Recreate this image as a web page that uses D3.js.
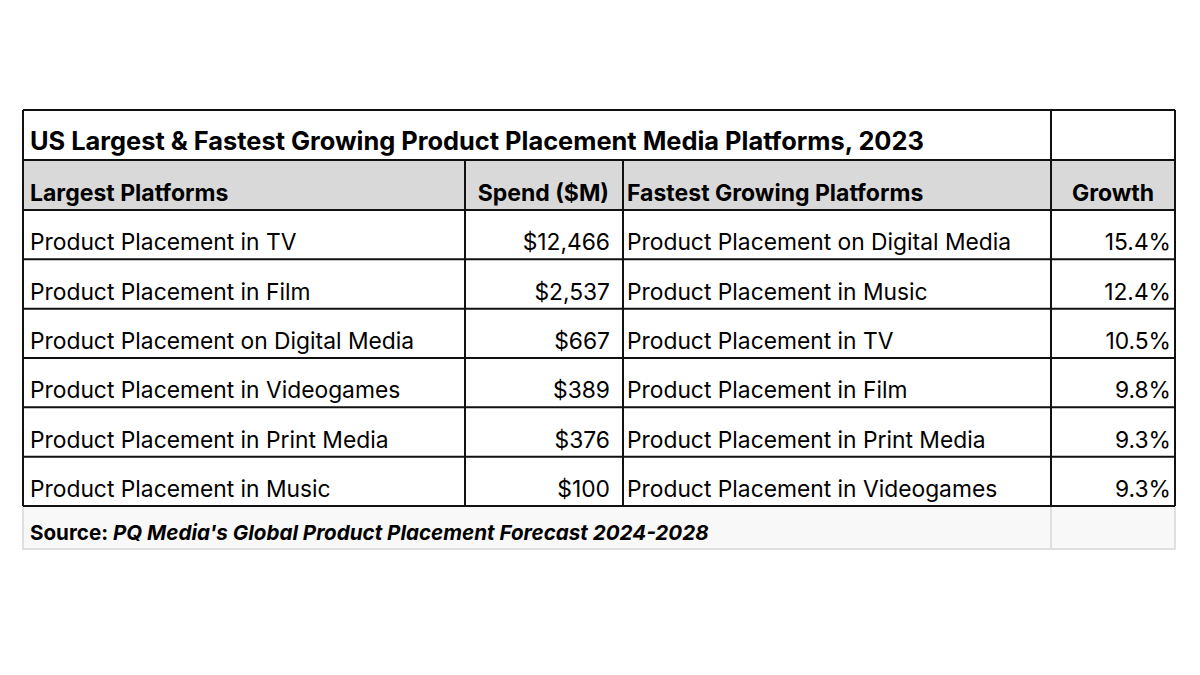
<!DOCTYPE html>
<html>
<head>
<meta charset="utf-8">
<script src="https://cdn.jsdelivr.net/npm/d3@7"></script>
<style>
  body { margin: 0; background: #fff; }
  text { font-family: Inter, "Noto Sans", sans-serif; fill: #000; }
</style>
</head>
<body>
<svg id="table"></svg>
<script>
const title = "US Largest & Fastest Growing Product Placement Media Platforms, 2023";
const headers = ["Largest Platforms", "Spend ($M)", "Fastest Growing Platforms", "Growth"];
const largest = [
  "Product Placement in TV",
  "Product Placement in Film",
  "Product Placement on Digital Media",
  "Product Placement in Videogames",
  "Product Placement in Print Media",
  "Product Placement in Music",
];
const spend = [12466, 2537, 667, 389, 376, 100];
const fastest = [
  "Product Placement on Digital Media",
  "Product Placement in Music",
  "Product Placement in TV",
  "Product Placement in Film",
  "Product Placement in Print Media",
  "Product Placement in Videogames",
];
const growth = [15.4, 12.4, 10.5, 9.8, 9.3, 9.3];
const sourceLabel = "Source: ";
const sourceText = "PQ Media's Global Product Placement Forecast 2024-2028";

const WIDTH = 1200;
const HEIGHT = 675;
const svg = d3.select("#table").attr("width", WIDTH).attr("height", HEIGHT);

// column edges
const colEdges = [23, 465, 623, 1051, 1175];
// row index -> y of top edge (0 title, 1 header, 2..7 data, 8 source)
const yScale = d3.scaleLinear([0, 1, 2, 8, 9], [110, 160, 210, 506, 549]);

const fmtSpend = d3.format("$,");
const fmtGrowth = d => d.toFixed(1) + "%";

// header fill
svg.append("rect")
  .attr("x", colEdges[0]).attr("y", yScale(1))
  .attr("width", colEdges[4] - colEdges[0]).attr("height", yScale(2) - yScale(1))
  .attr("fill", "#d9d9d9");

// source row fill
svg.append("rect")
  .attr("x", colEdges[0]).attr("y", yScale(8))
  .attr("width", colEdges[4] - colEdges[0]).attr("height", yScale(9) - yScale(8))
  .attr("fill", "#f8f8f8");

// light borders for source row
svg.append("path")
  .attr("d", `M${colEdges[0]},${yScale(8)}V${yScale(9)}H${colEdges[4]}V${yScale(8)}M${colEdges[3]},${yScale(8)}V${yScale(9)}`)
  .attr("fill", "none").attr("stroke", "#d6d6d6").attr("stroke-width", 1.5);

// dark grid
const dark = svg.append("g").attr("stroke", "#111").attr("stroke-width", 2).attr("fill", "none");
d3.range(0, 9).forEach(i => {
  dark.append("line")
    .attr("x1", colEdges[0]).attr("x2", colEdges[4])
    .attr("y1", yScale(i)).attr("y2", yScale(i));
});
[0, 3, 4].forEach(c => {
  dark.append("line").attr("x1", colEdges[c]).attr("x2", colEdges[c]).attr("y1", yScale(0)).attr("y2", yScale(8));
});
[1, 2].forEach(c => {
  dark.append("line").attr("x1", colEdges[c]).attr("x2", colEdges[c]).attr("y1", yScale(1)).attr("y2", yScale(8));
});

const PAD = 7;
const baseline = i => yScale(i + 1) - 9;

// title
svg.append("text")
  .attr("x", colEdges[0] + PAD).attr("y", baseline(0) - 1)
  .attr("font-size", 25.4).attr("font-weight", 700)
  .text(title);

// headers
const hdrAnchor = ["start", "end", "start", "middle"];
const hdrX = [colEdges[0] + PAD, colEdges[2] - 14, colEdges[2] + 4, (colEdges[3] + colEdges[4]) / 2];
svg.append("g").selectAll("text")
  .data(headers)
  .join("text")
  .attr("x", (d, i) => hdrX[i])
  .attr("y", baseline(1))
  .attr("text-anchor", (d, i) => hdrAnchor[i])
  .attr("font-size", 23).attr("font-weight", 700)
  .text(d => d);

// data rows
const rows = largest.map((d, i) => ({ largest: d, spend: spend[i], fastest: fastest[i], growth: growth[i], i }));
const rowG = svg.append("g").selectAll("g")
  .data(rows)
  .join("g")
  .attr("transform", d => `translate(0,${baseline(d.i + 2)})`)
  .attr("font-size", 22.8);

rowG.append("text").attr("x", colEdges[0] + PAD).text(d => d.largest);
rowG.append("text").attr("x", colEdges[2] - 13).attr("text-anchor", "end").text(d => fmtSpend(d.spend));
rowG.append("text").attr("x", colEdges[2] + 4).text(d => d.fastest);
rowG.append("text").attr("x", colEdges[4] - 4).attr("text-anchor", "end").text(d => fmtGrowth(d.growth));

// source
const src = svg.append("text")
  .attr("x", colEdges[0] + PAD).attr("y", yScale(9) - 9)
  .attr("font-size", 20.6).attr("font-weight", 700);
src.append("tspan").text(sourceLabel);
src.append("tspan").attr("font-style", "italic").text(sourceText);
</script>
</body>
</html>
